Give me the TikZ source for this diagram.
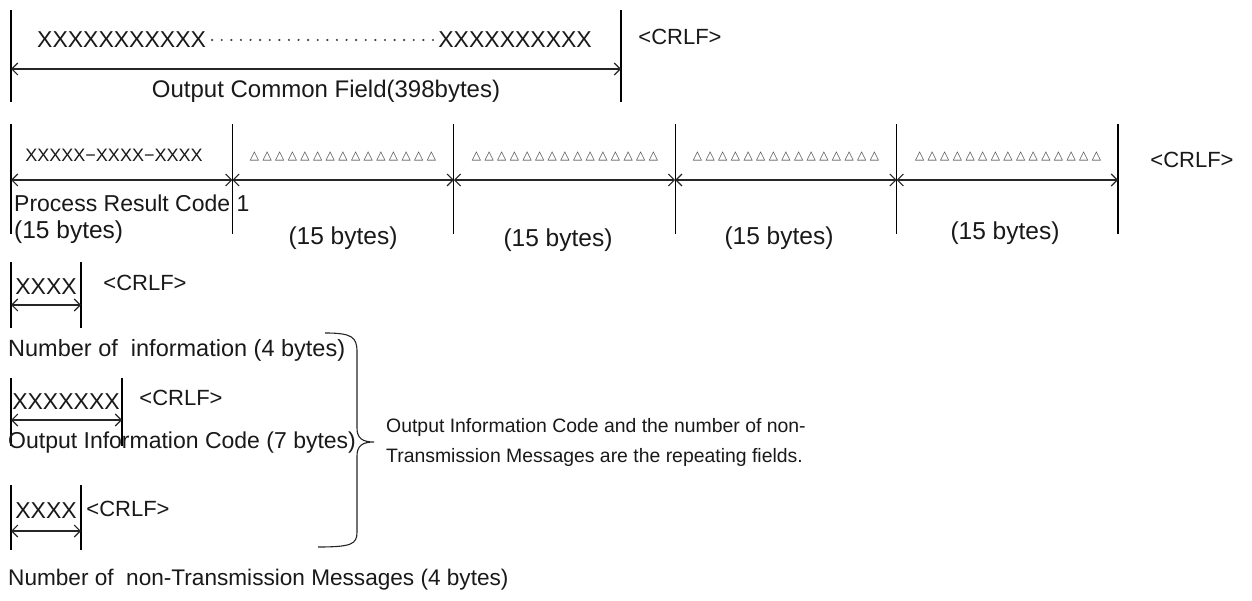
\documentclass[tikz,border=0pt]{standalone}
\usepackage{fontspec}
\setmainfont{Liberation Sans}
\newfontfamily\symfont{DejaVu Sans}
\usetikzlibrary{arrows.meta}

% one small open triangle with its gap
\newcommand\tri{{\symfont △}\hspace{3.4pt}}

\begin{document}
\begin{tikzpicture}[x=1pt,y=-1pt,
  bar/.style={line width=1.2pt, draw=black},
  span/.style={line width=1.1pt, draw=black!85,
    {Straight Barb[length=6pt,width=12pt]}-{Straight Barb[length=6pt,width=12pt]}},
  lbl/.style={font=\fontsize{23}{26}\selectfont, inner sep=0pt, text=black!90},
  big/.style={lbl, font=\fontsize{24.5}{28}\selectfont},
  crlf/.style={font=\fontsize{22}{26}\selectfont, inner sep=0pt, text=black!90},
  small/.style={font=\fontsize{18}{21}\selectfont, inner sep=0pt, text=black!90},
  tris/.style={font=\fontsize{12}{14}\selectfont, inner sep=0pt, text=black!75},
  brace/.style={line width=1.1pt, draw=black!85},
  note/.style={font=\fontsize{19.4}{30}\selectfont, inner sep=0pt, text=black!90, align=left}
]
\useasboundingbox[fill=white] (0,0) rectangle (1252,601);

% ---------- output common field ----------
\coordinate (r1a) at (11,10);  \coordinate (r1b) at (11,102);
\coordinate (r1c) at (621,10); \coordinate (r1d) at (621,102);
\draw[bar] (r1a) -- (r1b);
\draw[bar] (r1c) -- (r1d);
\coordinate (r1l) at (11,69); \coordinate (r1r) at (621,69);
\draw[span] (r1l) -- (r1r);
\node[lbl, anchor=west] (xl) at (37,40) {XXXXXXXXXXX};
\node[lbl, anchor=east] (xr) at (592,40) {XXXXXXXXXX};
\path (xl.east) ++(6,0) coordinate (d0);
\path (xr.west) ++(-5,0) coordinate (d1);
\draw[line width=2.4pt, line cap=round, dash pattern=on 0pt off 9.6pt, black!75] (d0) -- (d1);
\node[lbl, font=\fontsize{24}{28}\selectfont] (ocf) at (326,91) {Output Common Field(398bytes)};
\node[crlf] (crlf1) at (680,37) {<CRLF>};

% ---------- process result codes ----------
\foreach \i/\x in {0/11,1/232.4,2/453.8,3/675.2,4/896.6,5/1118}{
  \coordinate (p\i t) at (\x,124);
  \coordinate (p\i b) at (\x,234);
  \coordinate (p\i m) at (\x,180);
}
\coordinate (p0 b) at (11,248);
\foreach \i in {0,...,5}{ \draw[bar] (p\i t) -- (p\i b); }
\foreach \i/\j in {0/1,1/2,2/3,3/4,4/5}{ \draw[span] (p\i m) -- (p\j m); }
\node[small] (prc) at (114,155) {XXXXX−XXXX−XXXX};
\foreach \i/\x in {1/343,2/565,3/786,4/1008}{
  \node[tris] (t\i) at (\x,156) {\tri\tri\tri\tri\tri\tri\tri\tri\tri\tri\tri\tri\tri\tri{\symfont △}};
}
\node[lbl, anchor=west] (prl) at (14,203) {Process Result Code 1};
\node[big, anchor=west] (b0) at (14,232) {(15 bytes)};
\node[big] (b1) at (343,238) {(15 bytes)};
\node[big] (b2) at (558,240) {(15 bytes)};
\node[big] (b3) at (779,238) {(15 bytes)};
\node[big] (b4) at (1005,233) {(15 bytes)};
\node[crlf] (crlf2) at (1192,160) {<CRLF>};

% ---------- number of information ----------
\coordinate (n1a) at (11,262); \coordinate (n1b) at (11,328);
\coordinate (n1c) at (81,262); \coordinate (n1d) at (81,328);
\draw[bar] (n1a) -- (n1b);
\draw[bar] (n1c) -- (n1d);
\coordinate (n1l) at (11,305); \coordinate (n1r) at (81,305);
\draw[span] (n1l) -- (n1r);
\node[lbl] (nx) at (46,287) {XXXX};
\node[crlf] (crlf3) at (145,283) {<CRLF>};
\node[lbl, font=\fontsize{23.5}{27}\selectfont, anchor=west] (nil) at (8,350) {Number of\ \ information (4 bytes)};

% ---------- output information code ----------
\coordinate (o1a) at (11,378); \coordinate (o1b) at (11,446);
\coordinate (o1c) at (122,378); \coordinate (o1d) at (122,446);
\draw[bar] (o1a) -- (o1b);
\draw[bar] (o1c) -- (o1d);
\coordinate (o1l) at (11,420); \coordinate (o1r) at (122,420);
\draw[span] (o1l) -- (o1r);
\node[lbl] (ox) at (66,402) {XXXXXXX};
\node[crlf] (crlf4) at (181,398) {<CRLF>};
\node[lbl, anchor=west] (oil) at (8,443) {Output Information Code (7 bytes)};

% ---------- number of non-transmission messages ----------
\coordinate (m1a) at (11,485); \coordinate (m1b) at (11,550);
\coordinate (m1c) at (81,485); \coordinate (m1d) at (81,550);
\draw[bar] (m1a) -- (m1b);
\draw[bar] (m1c) -- (m1d);
\coordinate (m1l) at (11,531); \coordinate (m1r) at (81,531);
\draw[span] (m1l) -- (m1r);
\node[lbl] (mx) at (46,511) {XXXX};
\node[crlf] (crlf5) at (128,509) {<CRLF>};
\node[lbl, font=\fontsize{22.6}{26}\selectfont, anchor=west] (mil) at (8,580) {Number of\ \ non-Transmission Messages (4 bytes)};

% ---------- brace over the repeating fields ----------
\coordinate (bt) at (325,333);
\coordinate (tip) at (374,442);
\coordinate (bb) at (318,547);
\draw[brace] (bt) .. controls (352,333) and (357,337) .. (357,352)
  -- (357,428) .. controls (357,438) and (362,442) .. (tip)
  .. controls (362,442) and (357,446) .. (357,456)
  -- (357,532) .. controls (357,544) and (352,547) .. (bb);
\node[note, anchor=west] (rep) at (386,442)
  {Output Information Code and the number of non-\\Transmission Messages are the repeating fields.};
\end{tikzpicture}
\end{document}
